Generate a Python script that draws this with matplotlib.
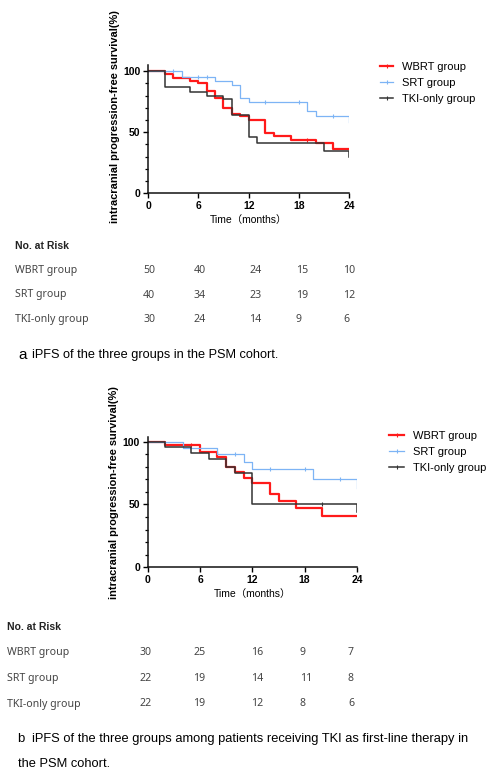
import numpy as np
import matplotlib
matplotlib.use("Agg")
import matplotlib.pyplot as plt
from matplotlib.lines import Line2D

plt.rcParams['font.family'] = ['Liberation Sans', 'Noto Sans CJK SC', 'DejaVu Sans']

# ---- data ----
groups = ["WBRT group", "SRT group", "TKI-only group"]
colors = ["#ff1a1a", "#7db4f5", "#333333"]
widths = [1.6, 0.9, 1.1]

# panel a
wbrt_a_t = [0, 2, 3, 5, 6, 7, 8, 9, 10, 11, 12, 14, 15, 17, 20, 22, 24]
wbrt_a_s = [100, 98, 94, 92, 90, 84, 78, 70, 65, 63, 60, 49, 47, 44, 41, 36, 36]
srt_a_t = [0, 4, 8, 10, 11, 12, 19, 20, 24]
srt_a_s = [100, 95, 92, 89, 78, 75, 67, 63, 58]
tki_a_t = [0, 2, 5, 7, 9, 10, 12, 13, 21, 24]
tki_a_s = [100, 87, 83, 80, 77, 64, 46, 41, 35, 30]
cens_a = [([19], [44]), ([3, 6, 7, 14, 18, 22], [100, 95, 95, 75, 75, 63]), ([], [])]

# panel b
wbrt_b_t = [0, 2, 6, 8, 9, 10, 11, 12, 14, 15, 17, 20, 24]
wbrt_b_s = [100, 97, 92, 88, 80, 76, 71, 67, 58, 53, 47, 41, 41]
srt_b_t = [0, 4, 8, 11, 12, 19, 24]
srt_b_s = [100, 95, 90, 84, 78, 70, 63]
tki_b_t = [0, 2, 5, 7, 9, 10, 12, 24]
tki_b_s = [100, 96, 91, 86, 80, 75, 50, 44]
cens_b = [([5], [97]), ([10, 14, 18, 22], [90, 78, 78, 70]), ([20], [50])]

risk_a = [[50, 40, 24, 15, 10], [40, 34, 23, 19, 12], [30, 24, 14, 9, 6]]
risk_b = [[30, 25, 16, 9, 7], [22, 19, 14, 11, 8], [22, 19, 12, 8, 6]]

W, H = 501, 783
fig = plt.figure(figsize=(W / 100, H / 100), dpi=100)


def fx(px):
    return px / W


def fy(py):
    return 1 - py / H


def km_panel(rect, curves, cens, ytop, ylab_x, ylab_y):
    ax = fig.add_axes(rect)
    for (t, s), c, lw, (ct, cs) in zip(curves, colors, widths, cens):
        ax.step(t, s, where='post', color=c, lw=lw)
        ax.plot(ct, cs, ls='none', marker='|', ms=3.5, mew=0.8, color=c)
    ax.set_xlim(0, 24)
    ax.set_ylim(0, ytop)
    ax.set_xticks([0, 6, 12, 18, 24])
    ax.set_yticks([0, 50, 100])
    ax.set_yticks(np.arange(10, 100, 10), minor=True)
    for sp in ['top', 'right']:
        ax.spines[sp].set_visible(False)
    for sp in ['left', 'bottom']:
        ax.spines[sp].set_linewidth(1.1)
        ax.spines[sp].set_color('#111111')
    ax.tick_params(which='major', length=3.5, width=1.0, pad=2, labelsize=7.5)
    ax.tick_params(which='minor', length=2.5, width=0.9)
    for lab in ax.get_xticklabels() + ax.get_yticklabels():
        lab.set_fontweight('bold')
    ax.set_ylabel("intracranial progression-free survival(%)", fontsize=7.9,
                  fontweight='bold')
    ax.yaxis.set_label_coords(ylab_x, ylab_y)
    ax.set_xlabel("Time（months）", fontsize=7.5, labelpad=3,
                  family=['Liberation Sans', 'Noto Sans CJK SC'])
    return ax


def legend(ax, x, y, hl):
    handles = [Line2D([], [], color=c, lw=lw, marker='|', ms=3, mew=0.8)
               for c, lw in zip(colors, widths)]
    ax.legend(handles, groups, loc='upper left', bbox_to_anchor=(fx(x), fy(y)),
              bbox_transform=fig.transFigure, frameon=False, fontsize=8,
              borderpad=0, borderaxespad=0, handlelength=hl, handletextpad=0.8,
              labelspacing=0.55)


def risk_table(y0, x_lab, xs, rows, dy):
    fig.text(fx(x_lab), fy(y0), "No. at Risk", fontsize=7.5, fontweight='bold',
             va='center', color='#222222', family=['Liberation Sans'])
    for i, (g, vals) in enumerate(zip(groups, rows)):
        yy = fy(y0 + dy[i])
        fig.text(fx(x_lab), yy, g, fontsize=7.6, va='center', color='#444444',
                 family=['Noto Sans'])
        for xv, v in zip(xs, vals):
            fig.text(fx(xv), yy, str(v), fontsize=7.6, va='center', color='#444444',
                     family=['Noto Sans'])


# ---- panel a ----
ax1 = km_panel([fx(148), fy(193.3), fx(349.3 - 148), (193.3 - 65) / H],
               [(wbrt_a_t, wbrt_a_s), (srt_a_t, srt_a_s), (tki_a_t, tki_a_s)],
               cens_a, 105, -0.14, 0.595)
legend(ax1, 380, 62, 1.2)
risk_table(246, 15, [143, 194, 249, 296, 343], risk_a, [24.7, 49, 73.3])
fig.text(fx(18), fy(355), "a", fontsize=11, va='center')
fig.text(fx(32), fy(355), "iPFS of the three groups in the PSM cohort.", fontsize=9.2,
         va='center')

# ---- panel b ----
ax2 = km_panel([fx(147.7), fy(567.3), fx(357 - 147.7), (567.3 - 436.5) / H],
               [(wbrt_b_t, wbrt_b_s), (srt_b_t, srt_b_s), (tki_b_t, tki_b_s)],
               cens_b, 104, -0.135, 0.572)
legend(ax2, 389, 431, 1.35)
risk_table(627, 7, [140, 193, 251, 300, 348], risk_b, [25.7, 51.3, 77])
fig.text(fx(17), fy(739.3), "b", fontsize=9.5, va='center')
fig.text(fx(32), fy(739.3),
         "iPFS of the three groups among patients receiving TKI as first-line therapy in",
         fontsize=9.3, va='center')
fig.text(fx(18), fy(764), "the PSM cohort.", fontsize=9.3, va='center')

fig.savefig("out.png", dpi=100)
